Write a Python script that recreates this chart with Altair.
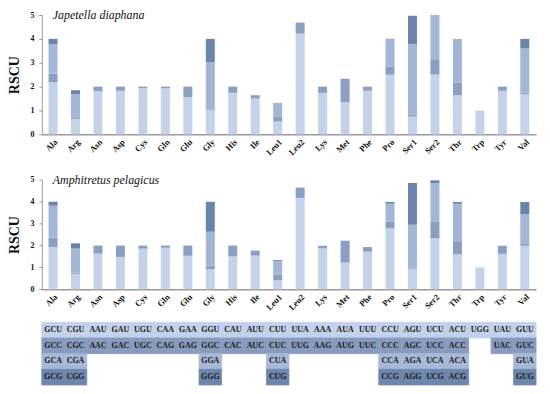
import altair as alt
import pandas as pd

amino = ["Ala", "Arg", "Asn", "Asp", "Cys", "Gln", "Glu", "Gly", "His", "Ile", "Leu1",
         "Leu2", "Lys", "Met", "Phe", "Pro", "Ser1", "Ser2", "Thr", "Trp", "Tyr", "Val"]

codons = [
    ["GCU", "GCC", "GCA", "GCG"], ["CGU", "CGC", "CGA", "CGG"], ["AAU", "AAC"],
    ["GAU", "GAC"], ["UGU", "UGC"], ["CAA", "CAG"], ["GAA", "GAG"],
    ["GGU", "GGC", "GGA", "GGG"], ["CAU", "CAC"], ["AUU", "AUC"],
    ["CUU", "CUC", "CUA", "CUG"], ["UUA", "UUG"], ["AAA", "AAG"], ["AUA", "AUG"],
    ["UUU", "UUC"], ["CCU", "CCC", "CCA", "CCG"], ["AGU", "AGC", "AGA", "AGG"],
    ["UCU", "UCC", "UCA", "UCG"], ["ACU", "ACC", "ACA", "ACG"], ["UGG"],
    ["UAU", "UAC"], ["GUU", "GUC", "GUA", "GUG"],
]

japetella = [
    [2.19, 0.35, 1.24, 0.22], [0.64, 0.04, 1.01, 0.16], [1.81, 0.19], [1.83, 0.17],
    [1.93, 0.07], [1.93, 0.07], [1.56, 0.44], [1.03, 0.04, 1.96, 0.97], [1.74, 0.26],
    [1.50, 0.14], [0.54, 0.21, 0.57, 0.0], [4.22, 0.46], [1.74, 0.26], [1.35, 0.98],
    [1.83, 0.17], [2.50, 0.33, 1.18, 0.0], [0.75, 0.08, 2.96, 1.18],
    [2.51, 0.64, 1.85, 0.0], [1.64, 0.54, 1.82, 0.0], [1.0], [1.83, 0.17],
    [1.69, 0.06, 1.85, 0.40],
]

amphitretus = [
    [1.93, 0.43, 1.46, 0.18], [0.71, 0.06, 1.09, 0.24], [1.63, 0.37], [1.48, 0.52],
    [1.86, 0.14], [1.90, 0.10], [1.53, 0.47], [0.91, 0.15, 1.57, 1.37], [1.50, 0.50],
    [1.54, 0.23], [0.41, 0.27, 0.62, 0.04], [4.18, 0.47], [1.87, 0.12], [1.22, 1.00],
    [1.72, 0.21], [2.78, 0.32, 0.81, 0.08], [0.91, 0.04, 2.00, 1.91],
    [2.33, 0.75, 1.78, 0.12], [1.60, 0.60, 1.71, 0.08], [1.0], [1.62, 0.37],
    [1.99, 0.11, 1.33, 0.56],
]

species = ["Japetella diaphana", "Amphitretus pelagicus"]
shades = ["#c5d3ea", "#8a9fc2", "#a3b6d6", "#6a84ab"]
table_shades = ["#c3d2ea", "#889bbe", "#a7b9d7", "#6c86ac"]
SERIF = "Liberation Serif"
W = 497


def long_df(values):
    rows = []
    for aa, cods, vals in zip(amino, codons, values):
        for i, (c, v) in enumerate(zip(cods, vals)):
            rows.append({"aa": aa, "idx": str(i + 1), "codon": c, "value": v})
    return pd.DataFrame(rows)


def panel(values, title, height, offset):
    df = long_df(values)
    bars = alt.Chart(df).mark_bar().encode(
        x=alt.X("aa:N", sort=amino,
                scale=alt.Scale(paddingInner=0.6, paddingOuter=0.3),
                axis=alt.Axis(title=None, labelAngle=-45, ticks=False,
                              domainColor="#9a9a9a", domainWidth=1.5,
                              labelFont=SERIF, labelFontWeight="bold",
                              labelFontSize=8.5, labelColor="#111",
                              labelPadding=3)),
        y=alt.Y("value:Q", stack="zero",
                scale=alt.Scale(domain=[0, 5], range=[height, offset], nice=False),
                axis=alt.Axis(title="RSCU", values=[0, 1, 2, 3, 4, 5], grid=False,
                              domainColor="#9a9a9a", tickColor="#9a9a9a", tickSize=3,
                              labelFont=SERIF, labelFontWeight="bold", labelFontSize=8,
                              labelColor="#111", labelPadding=5,
                              titleFont=SERIF, titleFontWeight="bold", titleFontSize=14,
                              titleColor="#111", titlePadding=8)),
        color=alt.Color("idx:N", scale=alt.Scale(domain=["1", "2", "3", "4"], range=shades),
                        legend=None),
        order=alt.Order("idx:Q", sort="ascending"),
    )
    label = alt.Chart(pd.DataFrame({"t": [title]})).mark_text(
        align="left", baseline="alphabetic", font=SERIF, fontStyle="italic",
        fontSize=12, color="#111",
    ).encode(x=alt.value(11), y=alt.value(offset + 4.2), text="t:N")
    return alt.layer(bars, label).properties(width=W, height=height)


top = panel(japetella, species[0], 120, 0)
bottom = panel(amphitretus, species[1], 123.3, 13.3)

table_df = long_df(japetella)
tscale = alt.Scale(domain=["1", "2", "3", "4"], range=table_shades)
tbase = alt.Chart(table_df).encode(
    x=alt.X("aa:N", sort=amino, scale=alt.Scale(paddingInner=0, paddingOuter=0), axis=None),
    y=alt.Y("idx:N", scale=alt.Scale(paddingInner=0, paddingOuter=0), axis=None),
)
cells = tbase.mark_rect(strokeWidth=0.8).encode(
    color=alt.Color("idx:N", scale=tscale, legend=None),
    stroke=alt.Stroke("idx:N", scale=tscale, legend=None),
)
texts = tbase.mark_text(font=SERIF, fontWeight="bold", fontSize=8, color="#1a1a1a").encode(
    text="codon:N"
)
table = alt.layer(cells, texts).properties(width=W, height=63)

chart = alt.vconcat(top, bottom, table, spacing=32.5, bounds="flush").resolve_scale(
    color="independent", stroke="independent"
).properties(
    padding={"left": 0, "top": 0, "right": 5, "bottom": 3}
).configure_view(stroke=None)

chart.save("out.html", embed_options={"renderer": "svg", "actions": False})
